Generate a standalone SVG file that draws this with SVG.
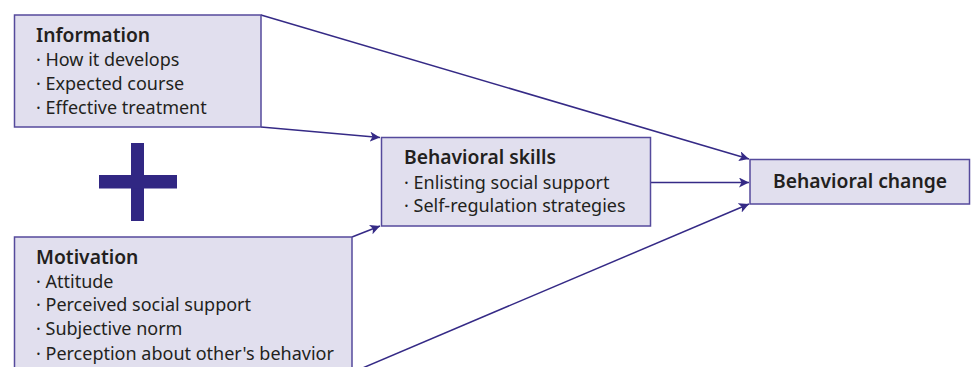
<svg xmlns="http://www.w3.org/2000/svg" width="971" height="367" viewBox="0 0 971 367">
<style>
.box{fill:#e1dfee;stroke:#554a9c;stroke-width:1.5}
.t{font-family:"Noto Sans","Open Sans",sans-serif;fill:#231f20}
.h{font-size:19.3px;font-weight:600}
.i{font-size:18px}
.c{fill:none;stroke:#352a86;stroke-width:1.5}
</style>
<defs>
<marker id="ah" viewBox="0 0 10 10" refX="10" refY="5" markerWidth="10" markerHeight="10" markerUnits="userSpaceOnUse" orient="auto">
<path d="M0,0 L10,5 L0,10 L2.5,5 Z" fill="#352a86"/>
</marker>
</defs>
<rect width="971" height="367" fill="#ffffff"/>
<g id="connectors">
<line class="c" x1="261" y1="15" x2="749" y2="159" marker-end="url(#ah)"/>
<line class="c" x1="261" y1="127" x2="380" y2="137.5" marker-end="url(#ah)"/>
<line class="c" x1="352" y1="237" x2="380" y2="226" marker-end="url(#ah)"/>
<line class="c" x1="651" y1="182.5" x2="749" y2="182.5" marker-end="url(#ah)"/>
<line class="c" x1="352" y1="372.5" x2="749" y2="204" marker-end="url(#ah)"/>
</g>
<g id="information">
<rect class="box" x="14.5" y="15" width="246.5" height="112"/>
<text class="t h" x="36" y="42">Information</text>
<text class="t i" x="36" y="66">· How it develops</text>
<text class="t i" x="36" y="89.5">· Expected course</text>
<text class="t i" x="36" y="113.5">· Effective treatment</text>
</g>
<g id="plus">
<rect x="131" y="143" width="13" height="78" fill="#312783"/>
<rect x="99" y="175" width="78" height="13.5" fill="#312783"/>
</g>
<g id="motivation">
<rect class="box" x="14.5" y="237" width="337.5" height="140"/>
<text class="t h" x="36" y="263.5">Motivation</text>
<text class="t i" x="36" y="287.5">· Attitude</text>
<text class="t i" x="36" y="311">· Perceived social support</text>
<text class="t i" x="36" y="335">· Subjective norm</text>
<text class="t i" x="36" y="359.5">· Perception about other's behavior</text>
</g>
<g id="skills">
<rect class="box" x="381.5" y="137.5" width="269" height="88.5"/>
<text class="t h" x="404" y="163.5">Behavioral skills</text>
<text class="t i" x="404" y="188.5">· Enlisting social support</text>
<text class="t i" x="404" y="212">· Self-regulation strategies</text>
</g>
<g id="change">
<rect class="box" x="750" y="159.5" width="219.5" height="44.5"/>
<text class="t h" x="860" y="188" text-anchor="middle">Behavioral change</text>
</g>
</svg>
